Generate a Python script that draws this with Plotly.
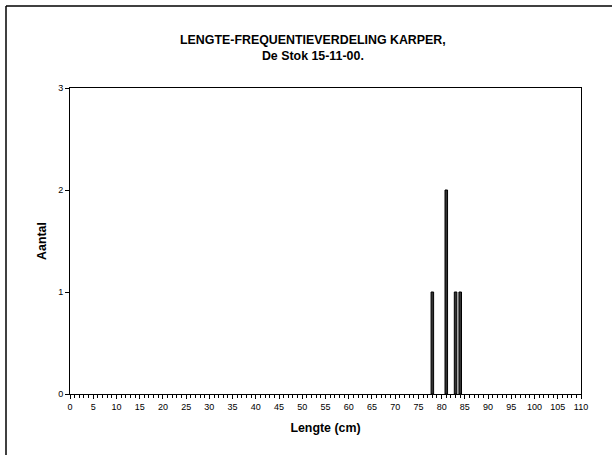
import plotly.graph_objects as go

lengths = [78, 81, 83, 84]
counts = [1, 2, 1, 1]
x_ticks = list(range(0, 111, 5))
y_ticks = [0, 1, 2, 3]
title_text = "<b>LENGTE-FREQUENTIEVERDELING KARPER,<br>De Stok 15-11-00.</b>"

L, R, T, B = 70, 31, 88, 61
W, H = 612, 455
pw, ph = W - L - R, H - T - B

fig = go.Figure(go.Bar(
    x=lengths, y=counts, width=0.55,
    marker=dict(color="#333333", line=dict(color="black", width=1)),
))

font = "Liberation Sans, Arial, sans-serif"
fig.update_layout(
    width=W, height=H,
    margin=dict(l=L, r=R, t=T, b=B),
    paper_bgcolor="white", plot_bgcolor="white",
    showlegend=False,
    font=dict(family=font, size=9, color="black"),
    xaxis=dict(
        range=[0, 110], tickvals=x_ticks, ticktext=[str(v) for v in x_ticks],
        ticks="outside", ticklen=4, tickwidth=1, tickcolor="black",
        minor=dict(dtick=1, tick0=0, ticks="outside", ticklen=3, tickcolor="black"),
        showgrid=False, zeroline=False,
        showline=True, linecolor="black", linewidth=1, mirror=True,
        tickfont=dict(size=9),
        title=dict(text="<b>Lengte (cm)</b>", font=dict(size=12.4), standoff=12),
    ),
    yaxis=dict(
        range=[0, 3], tickvals=y_ticks,
        ticks="outside", ticklen=4, tickcolor="black",
        showgrid=False, zeroline=False,
        showline=True, linecolor="black", linewidth=1, mirror=True,
        tickfont=dict(size=9),
        title=dict(text="<b>Aantal</b>", font=dict(size=12.4), standoff=8),
    ),
)

fig.add_annotation(
    text=title_text, xref="paper", yref="paper",
    x=(313 - L) / pw, y=(H - B - 48) / ph, xanchor="center", yanchor="middle",
    showarrow=False, font=dict(size=12.4, family=font, color="black"),
)

# outer chart frame (left and top edges visible)
x0 = (6 - L) / pw
ytop = (H - B - 6) / ph
ybot = (H - B - H) / ph
xr = (W + 5 - L) / pw
fig.add_shape(type="line", xref="paper", yref="paper", x0=x0, x1=x0, y0=ybot, y1=ytop,
              line=dict(color="black", width=1.5))
fig.add_shape(type="line", xref="paper", yref="paper", x0=x0, x1=xr, y0=ytop, y1=ytop,
              line=dict(color="black", width=1.5))

fig.write_html("out.html")
